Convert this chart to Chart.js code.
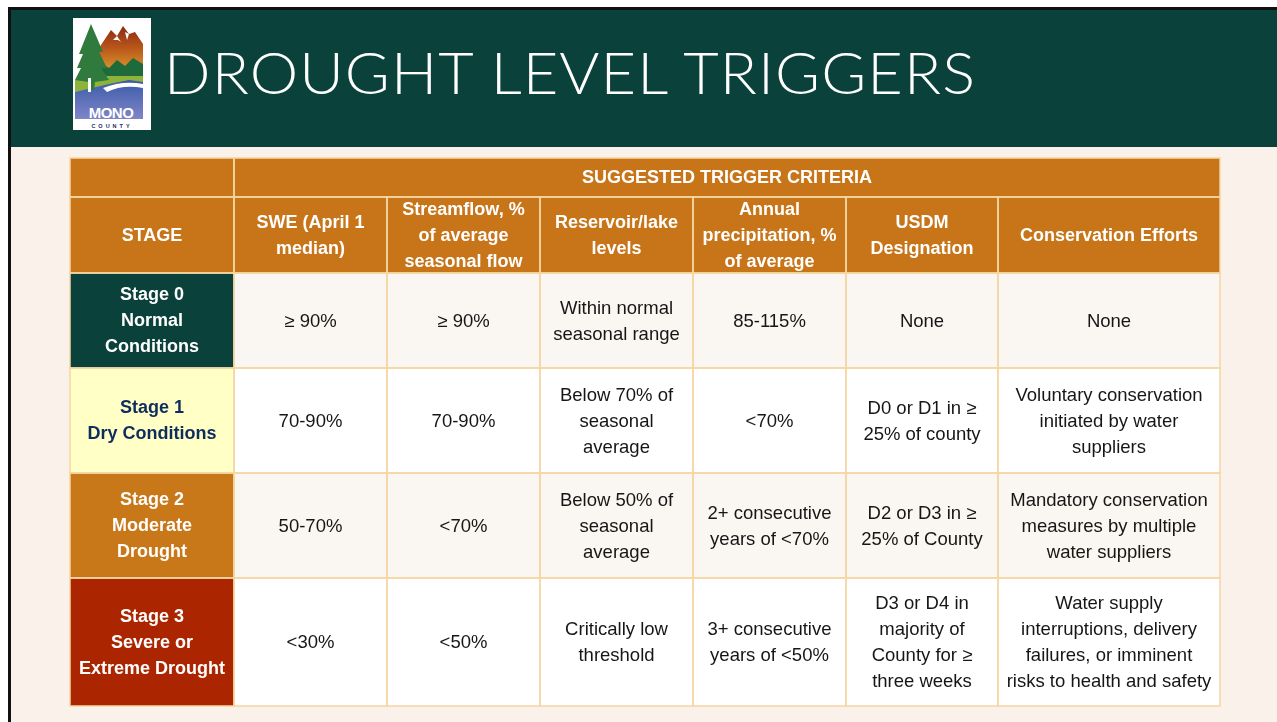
<!DOCTYPE html>
<html>
<head>
<meta charset="utf-8">
<script src="https://cdn.jsdelivr.net/npm/chart.js@4/dist/chart.umd.min.js"></script>
<style>
  html, body { margin: 0; padding: 0; width: 1277px; height: 722px; overflow: hidden; background: #ffffff; }
  #frame { position: absolute; left: 8px; top: 7px; right: 0; bottom: 0; border-top: 3px solid #111; border-left: 3px solid #111; background: #f9f1ea; }
  #banner { position: absolute; left: 0; top: 0; right: 0; height: 137px; background: #0a413a; }
  #title { position: absolute; left: 153px; top: 32px; color: #ffffff; font-family: Lato, "Open Sans", sans-serif; font-weight: 300; font-size: 57px; line-height: 60px; white-space: nowrap; }
  #titleText { display: inline-block; transform-origin: 0 50%; letter-spacing: 1px; }
  #logo { position: absolute; left: 62px; top: 8px; width: 78px; height: 112px; }
  #tableWrap { position: absolute; left: 69px; top: 157px; width: 1152px; height: 550px; }
</style>
</head>
<body>
<div id="frame">
  <div id="banner">
    <svg id="logo" viewBox="0 0 78 112" xmlns="http://www.w3.org/2000/svg">
      <defs>
        <linearGradient id="sky" x1="0" y1="0" x2="0" y2="1">
          <stop offset="0" stop-color="#8a2a12"/>
          <stop offset="0.45" stop-color="#b8561a"/>
          <stop offset="1" stop-color="#e0a030"/>
        </linearGradient>
        <linearGradient id="water" x1="0" y1="0" x2="0" y2="1">
          <stop offset="0" stop-color="#3a5aa8"/>
          <stop offset="1" stop-color="#7f86c8"/>
        </linearGradient>
      </defs>
      <rect x="0" y="0" width="78" height="112" fill="#ffffff"/>
      <path d="M26 30 L38 12 L44 18 L50 8 L56 16 L62 14 L70 26 L70 56 L26 56 Z" fill="url(#sky)"/>
      <path d="M40 22 L44 18 L48 24 L45 22 Z M52 14 L56 16 L54 22 Z" fill="#ffffff"/>
      <path d="M24 56 L30 46 L36 50 L44 42 L52 48 L60 40 L70 46 L70 62 L24 62 Z" fill="#1e6a3a"/>
      <path d="M2 62 L30 58 L70 58 L70 70 L2 74 Z" fill="#8db33a"/>
      <path d="M2 74 L36 66 L56 62 L70 64 L70 101 L2 101 Z" fill="url(#water)"/>
      <path d="M30 70 Q50 62 70 66 L70 70 Q50 66 34 74 Z" fill="#ffffff"/>
      <path d="M18 6 L30 34 L26 34 L34 50 L28 50 L36 62 L22 64 L21 72 L16 72 L16 64 L2 62 L8 50 L4 50 L10 36 L6 36 Z" fill="#2f7a3c"/>
      <rect x="15" y="60" width="3" height="14" fill="#ffffff"/>
      <text x="38" y="100" text-anchor="middle" font-family="Liberation Sans, Arial, sans-serif" font-weight="bold" font-size="15" fill="#ffffff" letter-spacing="-0.5">MONO</text>
      <text x="39" y="110" text-anchor="middle" font-family="Liberation Sans, Arial, sans-serif" font-weight="bold" font-size="5.5" fill="#1c2d6b" letter-spacing="3">COUNTY</text>
    </svg>
    <div id="title"><span id="titleText">DROUGHT LEVEL TRIGGERS</span></div>
  </div>
</div>
<div id="tableWrap"><canvas id="chart"></canvas></div>
<script>
// ---- table content (data) ----
const groupHeader = 'SUGGESTED TRIGGER CRITERIA';
const columnHeaders = ['STAGE', 'SWE (April 1\nmedian)', 'Streamflow, %\nof average\nseasonal flow', 'Reservoir/lake\nlevels', 'Annual\nprecipitation, %\nof average', 'USDM\nDesignation', 'Conservation Efforts'];
const stages = ['Stage 0\nNormal\nConditions', 'Stage 1\nDry Conditions', 'Stage 2\nModerate\nDrought', 'Stage 3\nSevere or\nExtreme Drought'];
const swe = ['\u2265 90%', '70-90%', '50-70%', '<30%'];
const streamflow = ['\u2265 90%', '70-90%', '<70%', '<50%'];
const reservoir = ['Within normal\nseasonal range', 'Below 70% of\nseasonal\naverage', 'Below 50% of\nseasonal\naverage', 'Critically low\nthreshold'];
const precipitation = ['85-115%', '<70%', '2+ consecutive\nyears of <70%', '3+ consecutive\nyears of <50%'];
const usdm = ['None', 'D0 or D1 in \u2265\n25% of county', 'D2 or D3 in \u2265\n25% of County', 'D3 or D4 in\nmajority of\nCounty for \u2265\nthree weeks'];
const conservation = ['None', 'Voluntary conservation\ninitiated by water\nsuppliers', 'Mandatory conservation\nmeasures by multiple\nwater suppliers', 'Water supply\ninterruptions, delivery\nfailures, or imminent\nrisks to health and safety'];

// ---- layout & style ----
const layout = {
  colWidths: [164, 153, 153, 153, 153, 152, 222],
  rowHeights: [39, 76, 95, 105, 105, 128],
  lineHeight: 26
};
const style = {
  headerFill: '#c8751a',
  stageFills: ['#0a413a', '#ffffc6', '#c97819', '#ab2600'],
  stageText: ['#ffffff', '#0e2d5e', '#ffffff', '#ffffff'],
  rowFills: ['#faf6f1', '#ffffff'],
  border: '#f5d6a2',
  bodyText: '#161616',
  font: '"Liberation Sans", Arial, sans-serif',
  boldSize: 18,
  bodySize: 18.5
};

const dataCols = [swe, streamflow, reservoir, precipitation, usdm, conservation];
const totalW = layout.colWidths.reduce((a, b) => a + b, 0);
const totalH = layout.rowHeights.reduce((a, b) => a + b, 0);
const colEdges = [0]; layout.colWidths.forEach(w => colEdges.push(colEdges[colEdges.length - 1] + w));
const rowEdges = [0]; layout.rowHeights.forEach(h => rowEdges.push(rowEdges[rowEdges.length - 1] + h));

const tablePlugin = {
  id: 'tablePlugin',
  afterDraw(chart) {
    const ctx = chart.ctx;
    const xs = chart.scales.x, ys = chart.scales.y;
    const X = v => xs.getPixelForValue(v);
    const Y = v => ys.getPixelForValue(v);
    const cells = [];
    cells.push({c0: 0, c1: 1, r: 0, fill: style.headerFill, text: '', bold: true, color: '#fff'});
    cells.push({c0: 1, c1: 7, r: 0, fill: style.headerFill, text: groupHeader, bold: true, color: '#fff'});
    columnHeaders.forEach((h, i) => cells.push({c0: i, c1: i + 1, r: 1, fill: style.headerFill, text: h, bold: true, color: '#fff'}));
    stages.forEach((s, i) => {
      cells.push({c0: 0, c1: 1, r: i + 2, fill: style.stageFills[i], text: s, bold: true, color: style.stageText[i]});
      dataCols.forEach((col, j) => cells.push({c0: j + 1, c1: j + 2, r: i + 2, fill: style.rowFills[i % 2], text: col[i], bold: false, color: style.bodyText}));
    });
    ctx.save();
    cells.forEach(c => {
      const x0 = X(colEdges[c.c0]), x1 = X(colEdges[c.c1]);
      const y0 = Y(rowEdges[c.r]), y1 = Y(rowEdges[c.r + 1]);
      ctx.fillStyle = c.fill;
      ctx.fillRect(x0, y0, x1 - x0, y1 - y0);
    });
    ctx.strokeStyle = style.border;
    ctx.lineWidth = 1.5;
    cells.forEach(c => {
      const x0 = X(colEdges[c.c0]), x1 = X(colEdges[c.c1]);
      const y0 = Y(rowEdges[c.r]), y1 = Y(rowEdges[c.r + 1]);
      ctx.strokeRect(x0, y0, x1 - x0, y1 - y0);
    });
    ctx.textAlign = 'center';
    ctx.textBaseline = 'middle';
    cells.forEach(c => {
      if (!c.text) return;
      const lines = c.text.split('\n');
      const cx = (X(colEdges[c.c0]) + X(colEdges[c.c1])) / 2;
      const cy = (Y(rowEdges[c.r]) + Y(rowEdges[c.r + 1])) / 2 + 1;
      ctx.font = (c.bold ? 'bold ' + style.boldSize : style.bodySize) + 'px ' + style.font;
      ctx.fillStyle = c.color;
      lines.forEach((ln, k) => {
        ctx.fillText(ln, cx, cy + (k - (lines.length - 1) / 2) * layout.lineHeight);
      });
    });
    ctx.restore();
  }
};

new Chart(document.getElementById('chart'), {
  type: 'scatter',
  data: { datasets: [] },
  options: {
    responsive: true,
    maintainAspectRatio: false,
    animation: false,
    layout: { padding: 1 },
    plugins: { legend: { display: false }, tooltip: { enabled: false } },
    scales: {
      x: { type: 'linear', min: 0, max: totalW, display: false },
      y: { type: 'linear', min: 0, max: totalH, reverse: true, display: false }
    }
  },
  plugins: [tablePlugin]
});

// widen title glyphs to span the reference width
(function () {
  const t = document.getElementById('titleText');
  const w = t.getBoundingClientRect().width;
  const target = 812;
  t.style.transform = 'scaleX(' + (target / w) + ')';
})();
</script>
</body>
</html>
